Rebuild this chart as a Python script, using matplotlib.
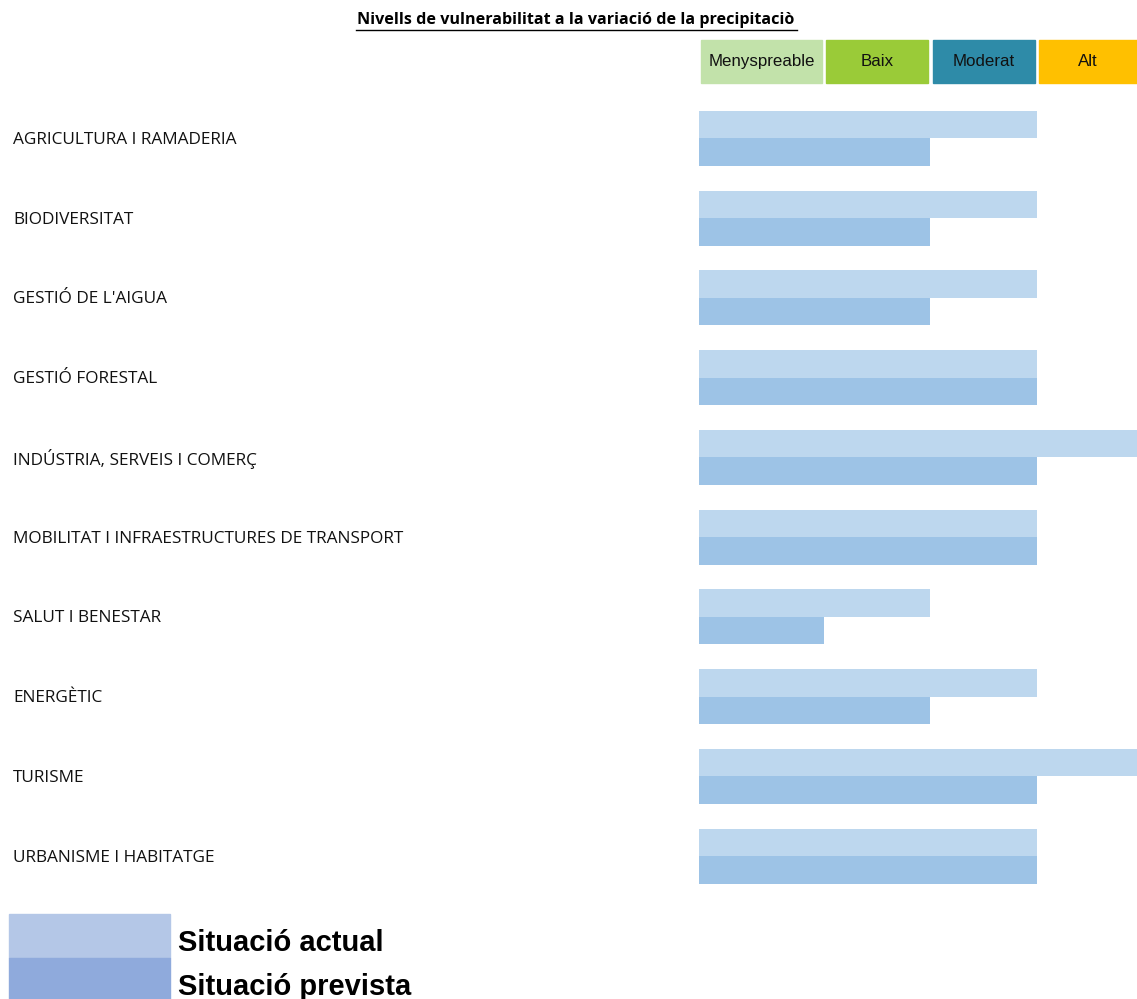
import matplotlib
matplotlib.use('Agg')
import matplotlib.pyplot as plt
from matplotlib.patches import Rectangle
from matplotlib.transforms import blended_transform_factory

categories = ['AGRICULTURA I RAMADERIA', 'BIODIVERSITAT', "GESTIÓ DE L'AIGUA",
              'GESTIÓ FORESTAL', 'INDÚSTRIA, SERVEIS I COMERÇ',
              'MOBILITAT I INFRAESTRUCTURES DE TRANSPORT', 'SALUT I BENESTAR',
              'ENERGÈTIC', 'TURISME', 'URBANISME I HABITATGE']
actual = [3, 3, 3, 3, 4, 3, 2, 3, 4, 3]
prevista = [2, 2, 2, 3, 3, 3, 1, 2, 3, 3]
levels = ['Menyspreable', 'Baix', 'Moderat', 'Alt']
level_colors = ['#C2E2AA', '#9ACB38', '#2E8BA8', '#FFC000']
series_names = ['Situació actual', 'Situació prevista']

W, H = 1137, 999
XMIN, XMAX = -0.174, 3.94
fig = plt.figure(figsize=(W / 100, H / 100), dpi=100)
ax = fig.add_axes([699 / W, 1 - 896 / H, 1 - 699 / W, (896 - 98.5) / H])
ax.set_xlim(XMIN, XMAX)
ax.set_ylim(len(categories) - 0.5, -0.5)
ax.axis('off')

bh = 0.345
ys = list(range(len(categories)))
ax.barh([y - bh / 2 for y in ys], [v - XMIN for v in actual], left=XMIN,
        height=bh, color='#BDD7EE')
ax.barh([y + bh / 2 for y in ys], [v - XMIN for v in prevista], left=XMIN,
        height=bh, color='#9DC3E6')

# category labels
tr = blended_transform_factory(fig.transFigure, ax.transData)
for y, c in zip(ys, categories):
    ax.text(13 / W, y + 0.02, c, transform=tr, ha='left', va='center',
            fontsize=12.4, family='Open Sans', color='#111111')

# level boxes along the top
starts = [XMIN, 1, 2, 3]
ends = [1, 2, 3, 4]
for i, (lv, col) in enumerate(zip(levels, level_colors)):
    x0 = starts[i] + 0.02
    x1 = ends[i] - 0.02
    ax.add_patch(Rectangle((x0, -0.966 - 0.27), x1 - x0, 0.54, color=col, clip_on=False))
    ax.text((x0 + min(x1, XMAX)) / 2, -0.966, lv, ha='center', va='center', fontsize=12.2,
            family='Liberation Sans', color='#111111')

fig.text(576 / W, 1 - 20 / H, 'Nivells de vulnerabilitat a la variació de la precipitaciò',
         ha='center', va='center', fontsize=11.6, fontweight='bold', family='Open Sans')
fig.add_artist(plt.Line2D([356 / W, 797 / W], [1 - 30 / H, 1 - 30 / H], color='black', lw=1))

# bottom legend
fig.patches.append(Rectangle((9 / W, 1 - 958 / H), 161 / W, 44 / H,
                             color='#B4C7E7', transform=fig.transFigure))
fig.patches.append(Rectangle((9 / W, 1 - 1002 / H), 161 / W, 44 / H,
                             color='#8FAADC', transform=fig.transFigure))
fig.text(178 / W, 1 - 943 / H, series_names[0], ha='left', va='center',
         fontsize=21, fontweight='bold', family='Liberation Sans')
fig.text(178 / W, 1 - 987 / H, series_names[1], ha='left', va='center',
         fontsize=21, fontweight='bold', family='Liberation Sans')

fig.savefig('out.png', dpi=100)
